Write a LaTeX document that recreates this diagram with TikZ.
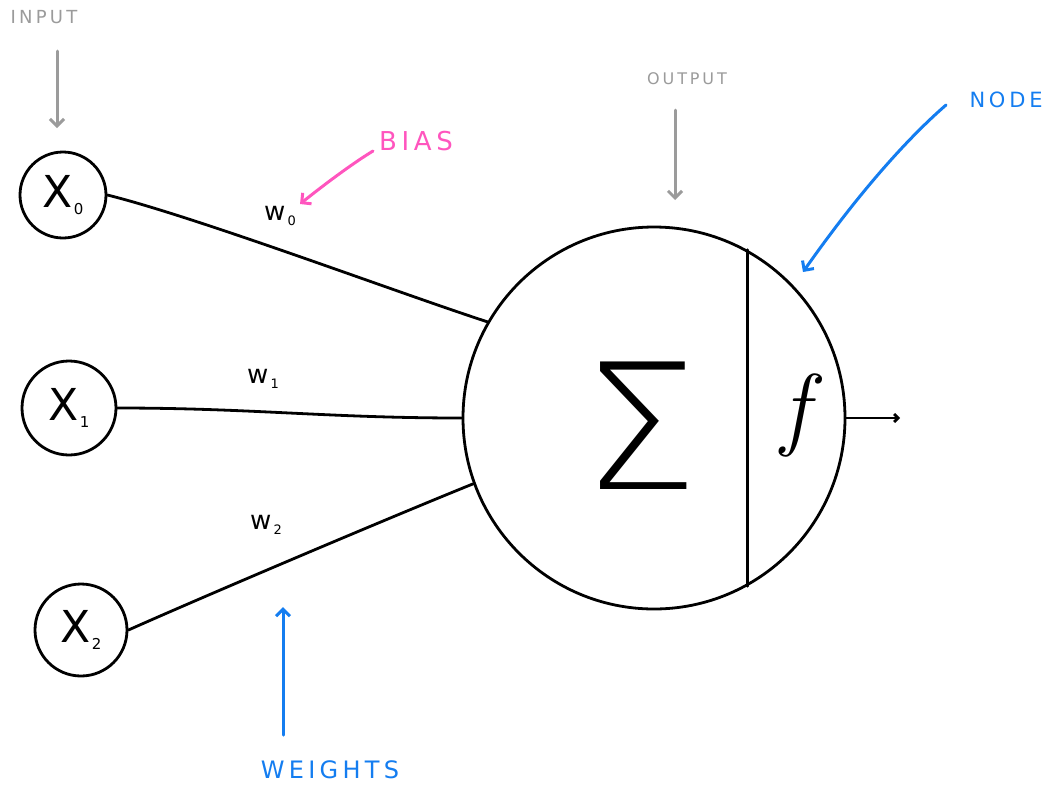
\documentclass[tikz,border=0pt]{standalone}
\usepackage{fontspec}
\setmainfont{DejaVu Sans}
\IfFontExistsTF{DejaVu Sans ExtraLight}
  {\newfontfamily\thinfont{DejaVu Sans ExtraLight}}
  {\newfontfamily\thinfont{DejaVu Sans}}
\newfontfamily\lmfont{Latin Modern Roman}
\newfontfamily\labfont[LetterSpace=18]{DejaVu Sans}
\usetikzlibrary{arrows.meta}
\definecolor{annogray}{RGB}{155,155,155}
\definecolor{annopink}{RGB}{255,85,190}
\definecolor{annoblue}{RGB}{20,125,240}
\newcommand\xsub[1]{{\fontsize{44}{44}\selectfont X}\kern1pt\raisebox{-7pt}{\fontsize{15}{15}\selectfont #1}}
\newcommand\wsub[1]{{\fontsize{26}{26}\selectfont w}\kern2pt\raisebox{-5pt}{\fontsize{13}{13}\selectfont #1}}
\begin{document}
\begin{tikzpicture}[x=1pt,y=-1pt,
  inputnode/.style={circle,draw,line width=2.8pt,inner sep=0pt},
  wire/.style={line width=2.8pt,line cap=round},
  anno/.style={line width=3pt,line cap=round,-{Straight Barb[length=7pt,width=14pt]}},
  annotext/.style={inner sep=0pt,font=\labfont}
]
\useasboundingbox (0,0) rectangle (1051,785);
% main neuron
\node[circle,draw,line width=2.8pt,minimum size=382pt,inner sep=0pt] (neuron) at (654,418) {};
\draw[wire] (neuron.61.9) -- (neuron.-61.9);
\node[inner sep=0pt] (sigma) at (641,426) {\scalebox{1.05}[1]{\fontsize{175}{175}\thinfont Σ}};
\node[inner sep=0pt] (func) at (795,415) {\fontsize{92}{92}\lmfont\itshape f};
\coordinate (outend) at (900,418);
\draw[wire,-{Straight Barb[length=4pt,width=8pt]}] (neuron.east) -- (outend);
% inputs
\node[inputnode,minimum size=86pt] (x0) at (63,195) {\xsub{0}};
\node[inputnode,minimum size=94pt] (x1) at (69,408) {\xsub{1}};
\node[inputnode,minimum size=92pt] (x2) at (81,630) {\xsub{2}};
% weighted connections
\draw[wire] (x0.east) to[out=-14,in=162,looseness=0.6] (neuron.150.5);
\draw[wire] (x1.east) to[out=0,in=180] (neuron.180);
\draw[wire] (x2.east) to[out=24,in=202,looseness=0.6] (neuron.200);
\node[inner sep=0pt] (w0) at (280,216) {\wsub{0}};
\node[inner sep=0pt] (w1) at (263,379) {\wsub{1}};
\node[inner sep=0pt] (w2) at (266,525) {\wsub{2}};
% annotations
\node[annotext,text=annogray,font=\labfont\fontsize{18}{18}\selectfont] (input) at (44,17) {INPUT};
\coordinate (inA) at (57,51);
\coordinate (inB) at (57,128);
\draw[anno,annogray] (inA) -- (inB);
\node[annotext,text=annogray,font=\labfont\fontsize{16}{16}\selectfont] (output) at (687,79) {OUTPUT};
\coordinate (outA) at (675,110);
\coordinate (outB) at (675,200);
\draw[anno,annogray] (outA) -- (outB);
\node[annotext,text=annopink,font=\labfont\fontsize{26}{26}\selectfont] (bias) at (416,141) {BIAS};
\coordinate (biasA) at (373,151);
\coordinate (biasB) at (300,204);
\draw[anno,annopink] (biasA) .. controls (350,165) and (320,188) .. (biasB);
\node[annotext,text=annoblue,font=\labfont\fontsize{21}{21}\selectfont] (nodelab) at (1006,100) {NODE};
\coordinate (nodeA) at (946,105);
\coordinate (nodeB) at (803,272);
\draw[anno,annoblue] (nodeA) .. controls (900,145) and (850,205) .. (nodeB);
\node[annotext,text=annoblue,font=\labfont\fontsize{24}{24}\selectfont] (weights) at (330,770) {WEIGHTS};
\coordinate (wA) at (283,735);
\coordinate (wB) at (283,607);
\draw[anno,annoblue] (wA) -- (wB);
\end{tikzpicture}
\end{document}
